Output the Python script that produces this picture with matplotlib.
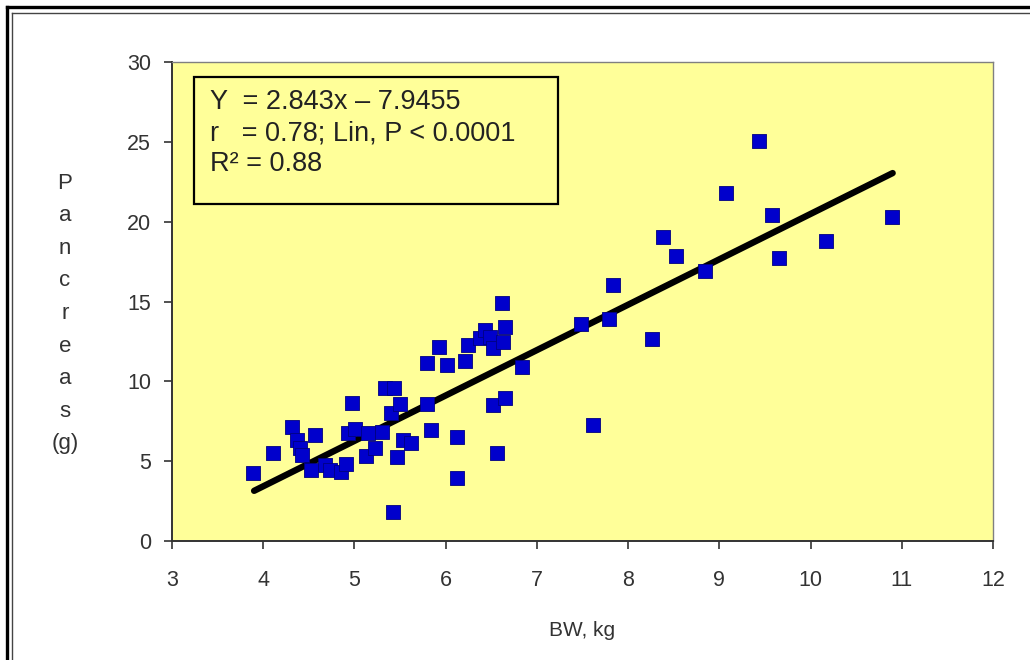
import matplotlib
matplotlib.use("Agg")
import matplotlib.pyplot as plt
from matplotlib.lines import Line2D
from matplotlib.patches import Rectangle
import numpy as np

plt.rcParams['font.family'] = ['Liberation Sans', 'DejaVu Sans']

# Data
bw_kg = [3.89, 4.11, 4.32, 4.37, 4.40, 4.43, 4.57, 4.52, 4.68, 4.73, 4.85, 4.91,
         4.97, 4.93, 5.01, 5.13, 5.15, 5.23, 5.30, 5.34, 5.43, 5.40, 5.50, 5.47,
         5.42, 5.53, 5.62, 5.80, 5.80, 5.84, 5.93, 6.01, 6.12, 6.12, 6.21, 6.24,
         6.38, 6.43, 6.49, 6.52, 6.63, 6.62, 6.65, 6.52, 6.65, 6.56, 6.84, 7.48,
         7.62, 7.79, 7.83, 8.26, 8.38, 8.52, 8.84, 9.07, 9.43, 9.58, 9.65, 10.17,
         10.89]
pancreas_g = [4.26, 5.51, 7.14, 6.32, 5.82, 5.39, 6.64, 4.45, 4.76, 4.45, 4.32, 4.82,
              8.64, 6.76, 7.01, 5.32, 6.76, 5.82, 6.83, 9.58, 9.58, 8.02, 8.58, 5.26,
              1.82, 6.32, 6.14, 11.15, 8.58, 6.95, 12.15, 11.02, 6.51, 3.94, 11.27, 12.27,
              12.71, 13.21, 12.77, 12.09, 12.46, 14.90, 13.40, 8.52, 8.95, 5.51, 10.90, 13.59,
              7.26, 13.90, 16.03, 12.65, 19.04, 17.85, 16.91, 21.79, 25.05, 20.41, 17.72, 18.79,
              20.29]

slope = 2.843
intercept = -7.9455
fit_x = [3.9, 10.9]

x_ticks = [3, 4, 5, 6, 7, 8, 9, 10, 11, 12]
y_ticks = [0, 5, 10, 15, 20, 25, 30]
stats_lines = ["Y  = 2.843x \u2013 7.9455",
               "r   = 0.78; Lin, P < 0.0001",
               "R\u00b2 = 0.88"]
y_label = ["P", "a", "n", "c", "r", "e", "a", "s", "(g)"]
x_label = "BW, kg"

W, H = 1030, 660
fig = plt.figure(figsize=(W / 100, H / 100), dpi=100)
fig.patch.set_facecolor("white")

ax = fig.add_axes([172 / W, 1 - 541 / H, (993 - 172) / W, (541 - 62) / H])
ax.set_facecolor("#FFFF99")

fx = np.array(fit_x)
ax.plot(fx, slope * fx + intercept, color="black", linewidth=4.6,
        solid_capstyle="round", zorder=3)
ax.scatter(bw_kg, pancreas_g, marker="s", s=105, color="#0000CC",
           edgecolors="#000080", linewidths=0.6, zorder=4)

ax.set_xlim(3, 12)
ax.set_ylim(0, 30)
ax.set_xticks(x_ticks)
ax.set_yticks(y_ticks)
ax.tick_params(axis="both", direction="out", length=6, width=1.2,
               color="#333333", labelsize=15.5, labelcolor="#333333")
ax.tick_params(axis="x", pad=15)
ax.tick_params(axis="y", pad=9)
for side in ["left", "bottom"]:
    ax.spines[side].set_color("#333333")
    ax.spines[side].set_linewidth(1.4)
for side in ["top", "right"]:
    ax.spines[side].set_color("#808080")
    ax.spines[side].set_linewidth(1.0)

# statistics box
ax.add_patch(Rectangle((0.027, 0.704), 0.443, 0.265, transform=ax.transAxes,
                       facecolor="#FFFF99", edgecolor="black", linewidth=1.6, zorder=5))
for ty, line in zip([0.916, 0.851, 0.787], stats_lines):
    ax.text(0.046, ty, line, transform=ax.transAxes, fontsize=19.5,
            color="#222222", va="center", ha="left", zorder=6)

# x label
fig.text(582 / W, 1 - 630 / H, x_label, ha="center", va="center",
         fontsize=15, color="#333333")

# stacked y label
for i, ch in enumerate(y_label):
    yy = 183 + i * 32.6
    fig.text(65 / W, 1 - yy / H, ch, ha="center", va="center",
             fontsize=16, color="#333333")

# double frame on left and top
fig.add_artist(Line2D([7 / W, 7 / W], [0, 1 - 7 / H], transform=fig.transFigure,
                      color="black", linewidth=2.4))
fig.add_artist(Line2D([7 / W, 1], [1 - 7 / H, 1 - 7 / H], transform=fig.transFigure,
                      color="black", linewidth=2.4))
fig.add_artist(Line2D([12 / W, 12 / W], [0, 1 - 13 / H], transform=fig.transFigure,
                      color="#444444", linewidth=1.0))
fig.add_artist(Line2D([12 / W, 1], [1 - 13 / H, 1 - 13 / H], transform=fig.transFigure,
                      color="#444444", linewidth=1.0))

fig.savefig("out.png", dpi=100)
